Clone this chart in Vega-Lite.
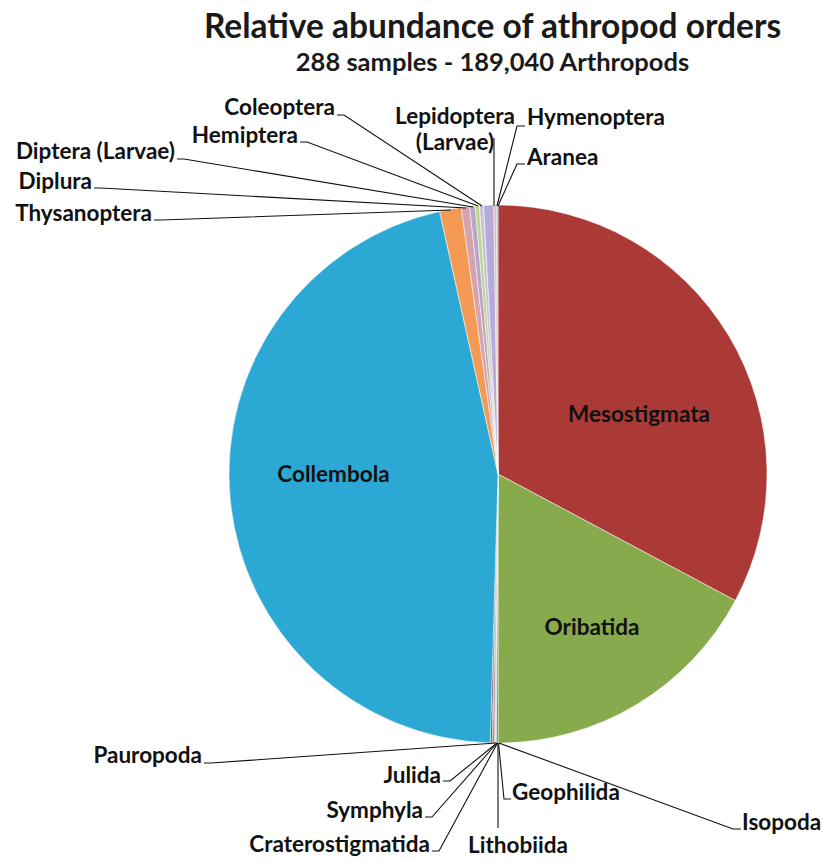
{
  "$schema": "https://vega.github.io/schema/vega-lite/v6.json",
  "width": 823,
  "height": 861,
  "autosize": "none",
  "padding": 0,
  "background": "white",
  "config": {"view": {"stroke": null}, "font": "Lato"},
  "title": {
    "text": "Relative abundance of athropod orders",
    "subtitle": "288 samples - 189,040 Arthropods",
    "anchor": "middle",
    "frame": "group",
    "dx": 81,
    "offset": -77,
    "font": "Lato",
    "fontSize": 33.5,
    "fontWeight": "bold",
    "color": "#1a1a1a",
    "subtitleFont": "Lato",
    "subtitleFontSize": 25.5,
    "subtitleFontWeight": "bold",
    "subtitleColor": "#1a1a1a",
    "subtitlePadding": 5
  },
  "datasets": {
    "slices": [
      {"order": 1, "taxon": "Mesostigmata", "pct": 32.8},
      {"order": 2, "taxon": "Oribatida", "pct": 17.2},
      {"order": 3, "taxon": "Isopoda", "pct": 0.10},
      {"order": 4, "taxon": "Geophilida", "pct": 0.05},
      {"order": 5, "taxon": "Lithobiida", "pct": 0.05},
      {"order": 6, "taxon": "Craterostigmatida", "pct": 0.03},
      {"order": 7, "taxon": "Symphyla", "pct": 0.08},
      {"order": 8, "taxon": "Julida", "pct": 0.05},
      {"order": 9, "taxon": "Pauropoda", "pct": 0.10},
      {"order": 10, "taxon": "Collembola", "pct": 46.06},
      {"order": 11, "taxon": "Thysanoptera", "pct": 1.30},
      {"order": 12, "taxon": "Diplura", "pct": 0.50},
      {"order": 13, "taxon": "Diptera (Larvae)", "pct": 0.33},
      {"order": 14, "taxon": "Hemiptera", "pct": 0.25},
      {"order": 15, "taxon": "Coleoptera", "pct": 0.25},
      {"order": 16, "taxon": "Lepidoptera (Larvae)", "pct": 0.60},
      {"order": 17, "taxon": "Hymenoptera", "pct": 0.15},
      {"order": 18, "taxon": "Aranea", "pct": 0.10}
    ],
    "leaders": [
      {"taxon": "Coleoptera", "seq": 1, "lx": -0.0595, "ly": 0.9963},
      {"taxon": "Coleoptera", "seq": 2, "lx": -0.5725, "ly": 1.3346},
      {"taxon": "Coleoptera", "seq": 3, "lx": -0.5985, "ly": 1.3346},
      {"taxon": "Hemiptera", "seq": 1, "lx": -0.0743, "ly": 0.9963},
      {"taxon": "Hemiptera", "seq": 2, "lx": -0.7100, "ly": 1.2342},
      {"taxon": "Hemiptera", "seq": 3, "lx": -0.7360, "ly": 1.2342},
      {"taxon": "Diptera (Larvae)", "seq": 1, "lx": -0.0929, "ly": 0.9926},
      {"taxon": "Diptera (Larvae)", "seq": 2, "lx": -1.1673, "ly": 1.1710},
      {"taxon": "Diptera (Larvae)", "seq": 3, "lx": -1.1933, "ly": 1.1710},
      {"taxon": "Diplura", "seq": 1, "lx": -0.1190, "ly": 0.9888},
      {"taxon": "Diplura", "seq": 2, "lx": -1.4758, "ly": 1.0632},
      {"taxon": "Diplura", "seq": 3, "lx": -1.5019, "ly": 1.0632},
      {"taxon": "Thysanoptera", "seq": 1, "lx": -0.1747, "ly": 0.9814},
      {"taxon": "Thysanoptera", "seq": 2, "lx": -1.2528, "ly": 0.9442},
      {"taxon": "Thysanoptera", "seq": 3, "lx": -1.2788, "ly": 0.9442},
      {"taxon": "Lepidoptera (Larvae)", "seq": 1, "lx": -0.0149, "ly": 0.9963},
      {"taxon": "Lepidoptera (Larvae)", "seq": 2, "lx": -0.0149, "ly": 1.2491},
      {"taxon": "Hymenoptera", "seq": 1, "lx": -0.0037, "ly": 0.9963},
      {"taxon": "Hymenoptera", "seq": 2, "lx": 0.0706, "ly": 1.2937},
      {"taxon": "Hymenoptera", "seq": 3, "lx": 0.1004, "ly": 1.2937},
      {"taxon": "Aranea", "seq": 1, "lx": 0.0, "ly": 0.9963},
      {"taxon": "Aranea", "seq": 2, "lx": 0.0706, "ly": 1.1524},
      {"taxon": "Aranea", "seq": 3, "lx": 0.1004, "ly": 1.1524},
      {"taxon": "Pauropoda", "seq": 1, "lx": -0.0074, "ly": -1.0},
      {"taxon": "Pauropoda", "seq": 2, "lx": -1.0669, "ly": -1.0743},
      {"taxon": "Pauropoda", "seq": 3, "lx": -1.0929, "ly": -1.0743},
      {"taxon": "Julida", "seq": 1, "lx": -0.0037, "ly": -1.0},
      {"taxon": "Julida", "seq": 2, "lx": -0.1784, "ly": -1.1413},
      {"taxon": "Julida", "seq": 3, "lx": -0.2045, "ly": -1.1413},
      {"taxon": "Symphyla", "seq": 1, "lx": -0.0037, "ly": -1.0},
      {"taxon": "Symphyla", "seq": 2, "lx": -0.2454, "ly": -1.2751},
      {"taxon": "Symphyla", "seq": 3, "lx": -0.2714, "ly": -1.2751},
      {"taxon": "Craterostigmatida", "seq": 1, "lx": -0.0019, "ly": -1.0},
      {"taxon": "Craterostigmatida", "seq": 2, "lx": -0.2193, "ly": -1.4015},
      {"taxon": "Craterostigmatida", "seq": 3, "lx": -0.2454, "ly": -1.4015},
      {"taxon": "Lithobiida", "seq": 1, "lx": 0.0, "ly": -1.0},
      {"taxon": "Lithobiida", "seq": 2, "lx": 0.0, "ly": -1.3160},
      {"taxon": "Geophilida", "seq": 1, "lx": 0.0019, "ly": -1.0},
      {"taxon": "Geophilida", "seq": 2, "lx": 0.0223, "ly": -1.2082},
      {"taxon": "Geophilida", "seq": 3, "lx": 0.0483, "ly": -1.2082},
      {"taxon": "Isopoda", "seq": 1, "lx": 0.0037, "ly": -1.0},
      {"taxon": "Isopoda", "seq": 2, "lx": 0.8736, "ly": -1.3197},
      {"taxon": "Isopoda", "seq": 3, "lx": 0.9033, "ly": -1.3197}
    ],
    "labelsRightAligned": [
      {"label": "Coleoptera", "lx": -0.6059, "ly": 1.3606},
      {"label": "Hemiptera", "lx": -0.7435, "ly": 1.2565},
      {"label": "Diptera (Larvae)", "lx": -1.2007, "ly": 1.1970},
      {"label": "Diplura", "lx": -1.5093, "ly": 1.0855},
      {"label": "Thysanoptera", "lx": -1.2862, "ly": 0.9665},
      {"label": "Pauropoda", "lx": -1.1004, "ly": -1.0483},
      {"label": "Julida", "lx": -0.2119, "ly": -1.1227},
      {"label": "Symphyla", "lx": -0.2788, "ly": -1.2528},
      {"label": "Craterostigmatida", "lx": -0.2528, "ly": -1.3792}
    ],
    "labelsLeftAligned": [
      {"label": "Hymenoptera", "lx": 0.1078, "ly": 1.3234},
      {"label": "Aranea", "lx": 0.1078, "ly": 1.1747},
      {"label": "Geophilida", "lx": 0.0520, "ly": -1.1859},
      {"label": "Isopoda", "lx": 0.9071, "ly": -1.2974}
    ],
    "labelsCentered": [
      {"label": "Lepidoptera\n(Larvae)", "lx": -0.1599, "ly": 1.3253},
      {"label": "Lithobiida", "lx": 0.0743, "ly": -1.3829},
      {"label": "Mesostigmata", "lx": 0.5242, "ly": 0.2193},
      {"label": "Oribatida", "lx": 0.3494, "ly": -0.5725},
      {"label": "Collembola", "lx": -0.6115, "ly": -0.0037}
    ]
  },
  "layer": [
    {
      "data": {"name": "slices"},
      "mark": {"type": "arc", "outerRadius": 269, "stroke": "#ffffff", "strokeWidth": 0.5},
      "encoding": {
        "x": {"datum": 0, "type": "quantitative", "scale": {"domain": [-1, 1], "range": [229, 767]}, "axis": null},
        "y": {"datum": 0, "type": "quantitative", "scale": {"domain": [-1, 1], "range": [743, 205]}, "axis": null},
        "theta": {"field": "pct", "type": "quantitative", "stack": true},
        "order": {"field": "order", "type": "quantitative"},
        "color": {
          "field": "taxon",
          "type": "nominal",
          "legend": null,
          "scale": {
            "domain": ["Mesostigmata", "Oribatida", "Isopoda", "Geophilida", "Lithobiida", "Craterostigmatida", "Symphyla", "Julida", "Pauropoda", "Collembola", "Thysanoptera", "Diplura", "Diptera (Larvae)", "Hemiptera", "Coleoptera", "Lepidoptera (Larvae)", "Hymenoptera", "Aranea"],
            "range": ["#AB3A37", "#86AA4C", "#7F63A1", "#4BACC6", "#F79646", "#2C4D75", "#772C2A", "#5F7530", "#4D3B62", "#2CA8D4", "#F59A55", "#D6A3AC", "#B7A6C6", "#BFD48F", "#C9C3D6", "#B4ABDA", "#E8B7B5", "#A5B8DB"]
          }
        }
      }
    },
    {
      "data": {"name": "leaders"},
      "mark": {"type": "line", "color": "#111111", "strokeWidth": 1.1},
      "encoding": {
        "x": {"field": "lx", "type": "quantitative", "scale": {"domain": [-1, 1], "range": [229, 767]}, "axis": null},
        "y": {"field": "ly", "type": "quantitative", "scale": {"domain": [-1, 1], "range": [743, 205]}, "axis": null},
        "detail": {"field": "taxon", "type": "nominal"},
        "order": {"field": "seq", "type": "quantitative"}
      }
    },
    {
      "data": {"name": "labelsRightAligned"},
      "mark": {"type": "text", "align": "right", "baseline": "middle", "font": "Lato", "fontWeight": "bold", "fontSize": 22.5, "color": "#111111"},
      "encoding": {
        "x": {"field": "lx", "type": "quantitative", "scale": {"domain": [-1, 1], "range": [229, 767]}, "axis": null},
        "y": {"field": "ly", "type": "quantitative", "scale": {"domain": [-1, 1], "range": [743, 205]}, "axis": null},
        "text": {"field": "label"}
      }
    },
    {
      "data": {"name": "labelsLeftAligned"},
      "mark": {"type": "text", "align": "left", "baseline": "middle", "font": "Lato", "fontWeight": "bold", "fontSize": 22.5, "color": "#111111"},
      "encoding": {
        "x": {"field": "lx", "type": "quantitative", "scale": {"domain": [-1, 1], "range": [229, 767]}, "axis": null},
        "y": {"field": "ly", "type": "quantitative", "scale": {"domain": [-1, 1], "range": [743, 205]}, "axis": null},
        "text": {"field": "label"}
      }
    },
    {
      "data": {"name": "labelsCentered"},
      "mark": {"type": "text", "align": "center", "baseline": "middle", "font": "Lato", "fontWeight": "bold", "fontSize": 22.5, "color": "#111111", "lineBreak": "\n", "lineHeight": 26},
      "encoding": {
        "x": {"field": "lx", "type": "quantitative", "scale": {"domain": [-1, 1], "range": [229, 767]}, "axis": null},
        "y": {"field": "ly", "type": "quantitative", "scale": {"domain": [-1, 1], "range": [743, 205]}, "axis": null},
        "text": {"field": "label"}
      }
    }
  ]
}
